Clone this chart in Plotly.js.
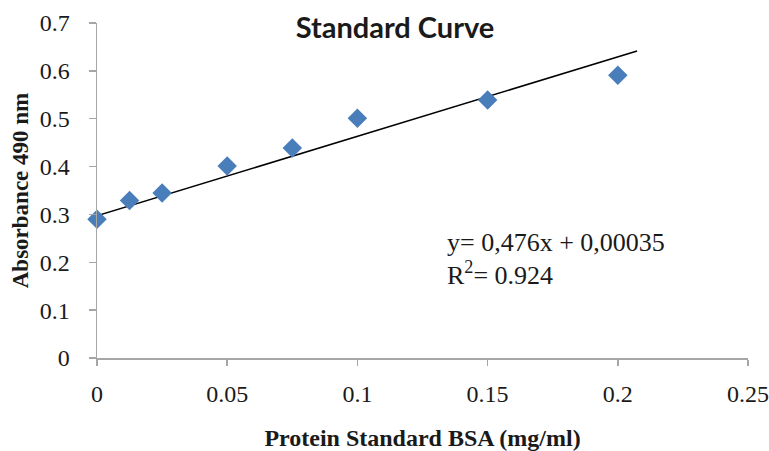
<!DOCTYPE html>
<html>
<head>
<meta charset="utf-8">
<script src="https://cdn.plot.ly/plotly-3.0.1.min.js"></script>
<style>html,body{margin:0;padding:0;background:#fff;}#chart{width:769px;height:451px;}</style>
</head>
<body>
<div id="chart"></div>
<script>
// Data
const concentration = [0, 0.0125, 0.025, 0.05, 0.075, 0.1, 0.15, 0.2];
const absorbance = [0.290, 0.329, 0.345, 0.401, 0.439, 0.501, 0.539, 0.591];
const trendX = [-0.0017, 0.2074];
const trendY = [0.2944, 0.6415];
const xTicks = [0, 0.05, 0.1, 0.15, 0.2, 0.25];
const xTickText = ['0', '0.05', '0.1', '0.15', '0.2', '0.25'];
const yTicks = [0, 0.1, 0.2, 0.3, 0.4, 0.5, 0.6, 0.7];
const yTickText = ['0', '0.1', '0.2', '0.3', '0.4', '0.5', '0.6', '0.7'];
const equationLines = ['y= 0,476x + 0,00035', 'R<sup>2</sup>= 0.924'];

const serif = "'Liberation Serif', 'Times New Roman', serif";

const traces = [
  {
    x: trendX, y: trendY, type: 'scatter', mode: 'lines',
    line: {color: '#000000', width: 1.6}, cliponaxis: false, hoverinfo: 'skip'
  },
  {
    x: concentration, y: absorbance, type: 'scatter', mode: 'markers',
    marker: {symbol: 'diamond', size: 15, color: '#4a7ebb', line: {width: 0}},
    cliponaxis: false
  }
];

const layout = {
  width: 769, height: 451,
  margin: {l: 97, r: 21, t: 23, b: 93, pad: 0},
  paper_bgcolor: '#ffffff', plot_bgcolor: '#ffffff',
  showlegend: false,
  title: {
    text: '<b>Standard Curve</b>',
    font: {family: 'Lato, sans-serif', size: 29, color: '#1a1a1a'},
    xref: 'container', yref: 'container',
    x: 395 / 769, xanchor: 'center',
    y: 1 - 28 / 451, yanchor: 'middle'
  },
  xaxis: {
    range: [0, 0.25], tickmode: 'array', tickvals: xTicks, ticktext: xTickText,
    showgrid: false, zeroline: false, showline: true, linecolor: '#a6a6a6', linewidth: 1.5,
    ticks: 'outside', ticklen: 6, tickwidth: 1.5, tickcolor: '#a6a6a6',
    ticklabelstandoff: 8,
    tickfont: {family: serif, size: 24, color: '#1a1a1a'},
    title: {text: '<b>Protein Standard BSA (mg/ml)</b>', font: {family: serif, size: 24, color: '#1a1a1a'}, standoff: 24},
    automargin: false
  },
  yaxis: {
    range: [0, 0.7], tickmode: 'array', tickvals: yTicks, ticktext: yTickText,
    showgrid: false, zeroline: false, showline: true, linecolor: '#a6a6a6', linewidth: 1.5,
    ticks: 'outside', ticklen: 7, tickwidth: 1.5, tickcolor: '#a6a6a6',
    ticklabelstandoff: 14,
    tickfont: {family: serif, size: 24, color: '#1a1a1a'},
    title: {text: '<b>Absorbance 490 nm</b>', font: {family: serif, size: 23, color: '#1a1a1a'}, standoff: 4},
    automargin: false
  },
  annotations: [
    {
      text: equationLines[0], x: 0.1336, y: 0.242, xref: 'x', yref: 'y',
      xanchor: 'left', yanchor: 'middle', showarrow: false,
      font: {family: serif, size: 26, color: '#1a1a1a'}
    },
    {
      text: equationLines[1], x: 0.1336, y: 0.176, xref: 'x', yref: 'y',
      xanchor: 'left', yanchor: 'middle', showarrow: false,
      font: {family: serif, size: 26, color: '#1a1a1a'}
    }
  ]
};

Plotly.newPlot('chart', traces, layout, {displayModeBar: false, staticPlot: true});
</script>
</body>
</html>
